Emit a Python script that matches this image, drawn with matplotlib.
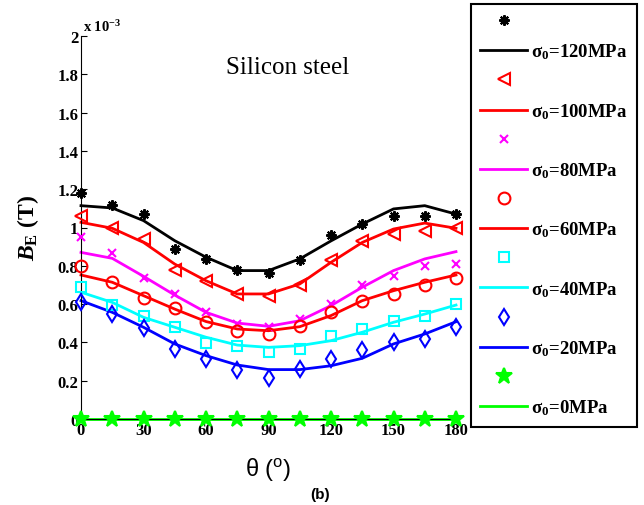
import matplotlib
matplotlib.use("Agg")
from matplotlib import pyplot as plt
import numpy as np

plt.rcParams['font.family'] = ['Liberation Serif', 'DejaVu Serif']
plt.rcParams['mathtext.fontset'] = 'custom'
plt.rcParams['mathtext.rm'] = 'Liberation Serif:bold'
plt.rcParams['mathtext.it'] = 'Liberation Serif:bold:italic'
plt.rcParams['mathtext.bf'] = 'Liberation Serif:bold'
plt.rcParams['mathtext.default'] = 'regular'

theta = [0, 15, 30, 45, 60, 75, 90, 105, 120, 135, 150, 165, 180]
stress = [120, 100, 80, 60, 40, 20, 0]

# measured (markers), units of 1e-3 T
meas_120 = [1.18, 1.12, 1.07, 0.89, 0.835, 0.78, 0.76, 0.83, 0.96, 1.02, 1.06, 1.06, 1.07]
meas_100 = [1.06, 1.00, 0.94, 0.78, 0.72, 0.655, 0.64, 0.70, 0.83, 0.93, 0.965, 0.98, 0.995]
meas_80 = [0.95, 0.865, 0.735, 0.653, 0.557, 0.496, 0.482, 0.522, 0.60, 0.70, 0.745, 0.80, 0.81]
meas_60 = [0.80, 0.714, 0.632, 0.58, 0.508, 0.461, 0.444, 0.487, 0.557, 0.618, 0.653, 0.70, 0.736]
meas_40 = [0.688, 0.595, 0.54, 0.479, 0.397, 0.383, 0.348, 0.366, 0.435, 0.47, 0.513, 0.54, 0.60]
meas_20 = [0.609, 0.548, 0.475, 0.366, 0.313, 0.258, 0.214, 0.261, 0.313, 0.36, 0.40, 0.418, 0.479]
meas_0 = [0, 0, 0, 0, 0, 0, 0, 0, 0, 0, 0, 0, 0]

# model (lines)
model_120 = [1.114, 1.102, 1.036, 0.931, 0.845, 0.775, 0.775, 0.836, 0.93, 1.018, 1.097, 1.114, 1.07]
model_100 = [1.027, 0.996, 0.922, 0.809, 0.722, 0.653, 0.653, 0.705, 0.818, 0.922, 0.992, 1.023, 0.996]
model_80 = [0.87, 0.839, 0.745, 0.647, 0.557, 0.501, 0.484, 0.513, 0.592, 0.688, 0.775, 0.836, 0.874]
model_60 = [0.752, 0.714, 0.644, 0.574, 0.509, 0.47, 0.461, 0.482, 0.54, 0.618, 0.67, 0.714, 0.752]
model_40 = [0.662, 0.609, 0.531, 0.479, 0.427, 0.386, 0.374, 0.383, 0.409, 0.453, 0.505, 0.548, 0.595]
model_20 = [0.618, 0.557, 0.479, 0.392, 0.331, 0.282, 0.258, 0.258, 0.278, 0.317, 0.392, 0.444, 0.508]
model_0 = [0, 0, 0, 0, 0, 0, 0, 0, 0, 0, 0, 0, 0]

meas = [meas_120, meas_100, meas_80, meas_60, meas_40, meas_20, meas_0]
model = [model_120, model_100, model_80, model_60, model_40, model_20, model_0]
colors = ['black', '#ff0000', '#ff00ff', '#ff0000', '#00ffff', '#0000ff', '#00ff00']
markers = [(8, 2, 0), '<', 'x', 'o', 's', 'd', '*']
msizes = [7.5, 9, 6, 8.5, 7, 8.5, 12]

fig = plt.figure(figsize=(6.44, 5.06), dpi=100)
ax = fig.add_axes([81 / 644, 1 - 420 / 506, 375 / 644, 383 / 506])

handles = []
labels = []
for i in range(len(stress)):
    filled = markers[i] in ('*', 'x') or isinstance(markers[i], tuple)
    m, = ax.plot(theta, meas[i], linestyle='none', marker=markers[i], ms=msizes[i],
                 mec=colors[i], mfc=colors[i] if filled else 'none', mew=1.5, clip_on=False, zorder=3)
    l, = ax.plot(theta, model[i], color=colors[i], lw=2, clip_on=False, zorder=2)
    handles += [m, l]
    labels += ['', 'σ$_0$=%dMPa' % stress[i]]

ax.set_xlim(0, 180)
ax.set_ylim(0, 2)
ax.set_xticks(np.arange(0, 181, 30))
ax.set_yticks(np.arange(0, 2.01, 0.2))
ax.set_yticklabels(['0', '0.2', '0.4', '0.6', '0.8', '1', '1.2', '1.4', '1.6', '1.8', '2'])
ax.spines['top'].set_visible(False)
ax.spines['right'].set_visible(False)
ax.tick_params(direction='in', length=4, labelsize=12, pad=2)
for t in ax.get_xticklabels() + ax.get_yticklabels():
    t.set_fontweight('bold')

ax.text(0.005, 1.005, 'x 10$^{-3}$', transform=ax.transAxes, fontsize=10.5, fontweight='bold',
        ha='left', va='bottom')
ax.text(0.55, 0.92, 'Silicon steel', transform=ax.transAxes, fontsize=18, ha='center', va='center')

ax.set_ylabel(r'$\mathit{B}_{E}$ (T)', fontsize=17, fontweight='bold', labelpad=12)
ax.set_xlabel('θ ($^{o}$)', fontsize=17, family=['Liberation Sans', 'DejaVu Sans'], labelpad=13)
fig.text(320 / 644, 1 - 495 / 506, '(b)', fontsize=11, fontweight='bold',
         family=['Liberation Sans', 'DejaVu Sans'], ha='center', va='center')

leg = fig.legend(handles, labels, loc='upper left', bbox_to_anchor=(471 / 644, 1 - 5 / 506),
                 bbox_transform=fig.transFigure, borderaxespad=0, fancybox=False,
                 edgecolor='black', framealpha=1, prop={'size': 13.5, 'weight': 'bold'},
                 handlelength=2.5, handletextpad=0.2, labelspacing=0.6, borderpad=0.5)
leg.get_frame().set_linewidth(1.5)

fig.savefig('out.png', dpi=100)
